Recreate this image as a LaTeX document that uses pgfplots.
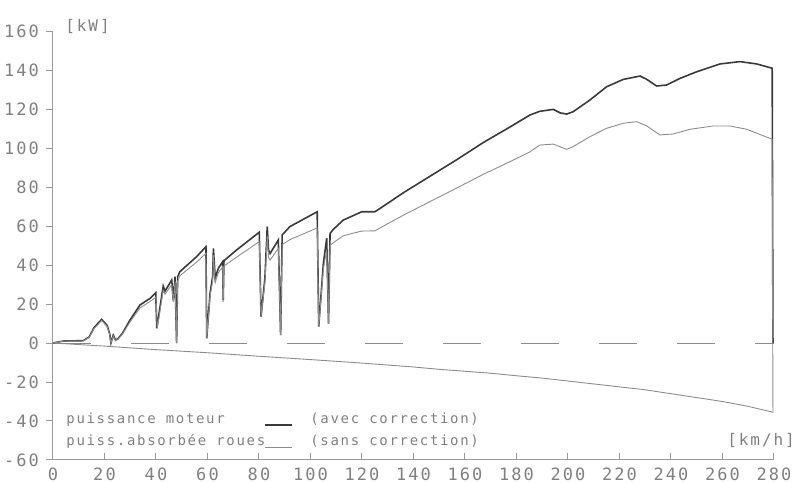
\documentclass[border=0pt]{standalone}
\usepackage{pgfplots}
\pgfplotsset{compat=1.18}
\usepackage{fontspec}
\newfontfamily\plotfont[LetterSpace=12]{DejaVu Sans Mono}
\definecolor{darkc}{HTML}{3A3A3A}
\definecolor{greyc}{HTML}{8C8C8C}
\definecolor{labc}{HTML}{808080}
\definecolor{axc}{HTML}{999999}
\begin{document}
\begin{tikzpicture}
\useasboundingbox (-26.5pt,-11.5pt) rectangle (373.5pt,230pt);
\begin{axis}[
  scale only axis, width=360.5pt, height=214.5pt,
  at={(0,0)}, anchor=south west,
  xmin=0, xmax=280, ymin=-60, ymax=160,
  xtick={0,20,...,280}, ytick={-60,-40,...,160},
  axis x line*=bottom, axis y line*=left,
  axis line style={draw=axc, line width=0.5pt},
  tick style={draw=axc, line width=0.5pt},
  major tick length=3.5pt,
  tick align=outside,
  xtick style={yshift=3.5pt},
  xticklabel style={yshift=3pt},
  ticklabel style={font=\plotfont\fontsize{8.5}{10}\selectfont, text=labc},
  /pgf/number format/assume math mode=true,
  clip=false,
  legend style={draw=none, fill=none, at={(0.0125,0.118)}, anchor=north west,
    inner sep=0pt, font=\plotfont\fontsize{7}{8}\selectfont, text=labc,
    nodes={inner sep=2pt, text height=5pt, text depth=1.5pt}, row sep=0.5pt},
  legend plot pos=right,
  legend cell align=left,
  legend image code/.code={\draw[#1] (0pt,-2.5pt) -- (13.5pt,-2.5pt);},
]
\addplot[color=axc!90!black, line width=0.45pt, dash pattern=on 19pt off 20pt, forget plot] coordinates {(0,0) (280,0)};
\addplot[color=darkc, line width=0.8pt] coordinates {
(0,0) (4,1) (11.7,1.2) (14,3) (16,8) (18.9,12.1) (21,9) (22,5) (22.5,0) (23.4,4) (24.3,1.5) (25.3,2.3) (27,5) (29.9,11.8) (33.8,19.5) (37.7,22.9) (39.9,25.8) (40.3,7.5) (42.8,29.2) (43.5,26.6) (46.1,32.3) (46.7,22) (47.4,34) (48,0) (48.4,34) (49.3,36.6) (55.8,44.3) (59.4,49.4) (59.7,2.4) (61,25.6) (62,34) (62.3,48.5) (63,33.3) (64.2,38.3) (65.9,41.7) (66.1,22) (66.4,42.2) (71.3,47.7) (80.1,56.8) (80.8,13.5) (82.3,33.3) (83.2,59.7) (83.7,47.7) (84.3,45.9) (87.5,52.8) (88.4,4.1) (89,55.4) (92,59.7) (102.6,67.3) (103.2,8.4) (105,40.9) (106.3,53.7) (107,10) (107.6,56.2) (108.9,58.3) (112.7,63) (119.9,67.3) (125,67.3) (127,69) (136,77) (146.4,85.5) (156.8,94) (167.1,102.8) (177.5,110.8) (185.2,116.9) (189,118.8) (194.3,119.8) (197,118) (199.5,117.4) (202,118.6) (208.5,124.6) (215,131.4) (221.5,135.2) (228,136.9) (230.6,135.2) (234.4,131.8) (238.3,132.3) (243.5,135.7) (250,139.1) (259,143.1) (266.8,144.3) (273.3,143.1) (279.3,140.9) (279.6,0)
};
\addlegendentry{\makebox[97pt][l]{puissance moteur}}
\addplot[color=greyc, line width=0.45pt] coordinates {
(0,0) (4,1) (11.7,1) (14,2.8) (16,7.5) (18.9,11.5) (21,8.5) (22,4.5) (22.5,0) (23.4,3.5) (24.3,1.2) (25.3,2) (27,4.6) (29.9,10.8) (33.8,18) (37.7,21.3) (40,23.5) (40.5,7.5) (42.8,27) (43.5,25) (46.1,30) (46.7,21) (47.4,31.5) (48,0) (48.4,31.5) (49.3,34.5) (55.8,41.5) (59.4,46) (59.7,2.4) (61,24) (62,32) (62.3,45) (63,31) (64.2,36) (65.9,39) (66.1,21) (66.4,39.5) (71.3,44) (80.1,52) (80.8,13.5) (82.3,31) (83.2,55) (83.7,44) (84.3,42.5) (87.5,48.5) (88.4,4) (89,50.5) (92,53) (102.6,59) (103.2,8.4) (105,38) (106.3,48) (107,10) (107.6,50) (108.9,51.5) (112.7,55) (119.9,57.4) (125,57.5) (127,59) (136,65.5) (146.4,72.5) (156.8,79.5) (167.1,86.5) (177.5,93) (185.2,98) (189,101.5) (194.3,102) (199.5,99.3) (202,100.7) (208.5,105.8) (215,110.1) (221.5,112.7) (226.7,113.5) (230.6,111.3) (235.7,106.7) (240.9,107.2) (247.4,109.6) (256.4,111.3) (262.9,111.3) (269.4,109.6) (279.3,104.5)
(279.6,-35.5) (270,-32.5) (260,-30) (250,-28) (240,-26) (230,-24) (220,-22.5) (210,-21) (200,-19.5) (190,-18) (180,-16.8) (170,-15.5) (160,-14.5) (150,-13.5) (140,-12.3) (130,-11.3) (120,-10.3) (110,-9.4) (100,-8.5) (80,-6.8) (60,-5) (40,-3.4) (20,-1.6) (0,0)
};
\addlegendentry{\makebox[97pt][l]{puiss.absorbée roues}}
\end{axis}
\node[anchor=west, inner sep=0pt, font=\plotfont\fontsize{7}{8}\selectfont, text=labc] at (128.5pt,20.5pt) {(avec correction)};
\node[anchor=west, inner sep=0pt, font=\plotfont\fontsize{7}{8}\selectfont, text=labc] at (128.5pt,9.5pt) {(sans correction)};
\node[anchor=west, inner sep=0pt, font=\plotfont\fontsize{8}{9}\selectfont, text=labc] at (6pt,217pt) {[kW]};
\node[anchor=west, inner sep=0pt, font=\plotfont\fontsize{8}{9}\selectfont, text=labc] at (337pt,10pt) {[km/h]};
\end{tikzpicture}
\end{document}
